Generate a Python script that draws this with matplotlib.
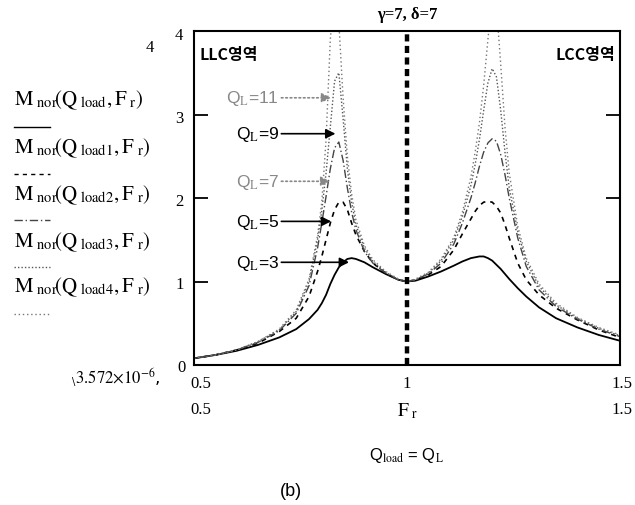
import matplotlib
matplotlib.use("Agg")
import matplotlib.pyplot as plt

plt.rcParams['mathtext.fontset'] = 'stix'

# ---- data ----
F = [0.50, 0.55, 0.60, 0.65, 0.70, 0.74, 0.77, 0.79, 0.80, 0.81, 0.82, 0.83,
     0.84, 0.85, 0.86, 0.87, 0.88, 0.90, 0.92, 0.95, 0.98, 1.00, 1.02, 1.05,
     1.08, 1.11, 1.13, 1.15, 1.16, 1.17, 1.18, 1.19, 1.20, 1.21, 1.22, 1.23,
     1.24, 1.26, 1.28, 1.31, 1.35, 1.40, 1.45, 1.50]

M_Q3 = [0.08, 0.12, 0.17, 0.24, 0.33, 0.43, 0.55, 0.66, 0.74, 0.84, 0.97, 1.08,
        1.17, 1.23, 1.27, 1.28, 1.27, 1.23, 1.17, 1.09, 1.02, 1.00, 1.01, 1.06,
        1.12, 1.19, 1.24, 1.28, 1.29, 1.30, 1.30, 1.28, 1.25, 1.20, 1.15, 1.09,
        1.03, 0.92, 0.82, 0.69, 0.56, 0.45, 0.36, 0.29]

M_Q5 = [0.08, 0.12, 0.18, 0.26, 0.40, 0.56, 0.82, 1.12, 1.30, 1.50, 1.70, 1.86,
        1.95, 1.95, 1.86, 1.70, 1.56, 1.36, 1.22, 1.10, 1.02, 1.00, 1.02, 1.08,
        1.18, 1.38, 1.57, 1.75, 1.84, 1.91, 1.95, 1.96, 1.95, 1.90, 1.82, 1.68,
        1.52, 1.22, 1.02, 0.84, 0.68, 0.54, 0.42, 0.33]

M_Q7 = [0.08, 0.12, 0.18, 0.27, 0.41, 0.62, 0.95, 1.40, 1.70, 2.02, 2.35, 2.60,
        2.67, 2.45, 2.12, 1.83, 1.62, 1.36, 1.22, 1.10, 1.02, 1.00, 1.02, 1.09,
        1.22, 1.45, 1.70, 2.00, 2.18, 2.38, 2.55, 2.66, 2.71, 2.68, 2.52, 2.28,
        2.00, 1.52, 1.18, 0.90, 0.70, 0.55, 0.43, 0.34]

M_Q9 = [0.08, 0.12, 0.18, 0.28, 0.42, 0.64, 1.00, 1.50, 1.85, 2.30, 2.85, 3.40,
        3.50, 2.95, 2.35, 1.95, 1.68, 1.40, 1.24, 1.11, 1.02, 1.00, 1.02, 1.10,
        1.25, 1.50, 1.78, 2.15, 2.40, 2.70, 3.05, 3.38, 3.55, 3.45, 3.05, 2.55,
        2.12, 1.60, 1.24, 0.94, 0.72, 0.56, 0.44, 0.35]

M_Q11 = [0.08, 0.12, 0.18, 0.28, 0.43, 0.66, 1.03, 1.55, 1.95, 2.70, 3.90, 4.50,
         4.10, 3.20, 2.50, 2.05, 1.74, 1.43, 1.26, 1.12, 1.03, 1.00, 1.03, 1.11,
         1.27, 1.53, 1.83, 2.25, 2.55, 2.90, 3.35, 3.90, 4.40, 4.30, 3.60, 2.85,
         2.30, 1.66, 1.28, 0.97, 0.74, 0.57, 0.45, 0.36]

ql_labels = ["11", "9", "7", "5", "3"]
ql_arrow_y = [3.2, 2.77, 2.2, 1.72, 1.23]
ql_arrow_x = [0.822, 0.832, 0.820, 0.822, 0.864]

legend_labels = [r"$\mathrm{M}_{\ \mathrm{nor}}\!\left(\mathrm{Q}_{\ \mathrm{load}},\mathrm{F}_{\ \mathrm{r}}\right)$",
                 r"$\mathrm{M}_{\ \mathrm{nor}}\!\left(\mathrm{Q}_{\ \mathrm{load1}},\mathrm{F}_{\ \mathrm{r}}\right)$",
                 r"$\mathrm{M}_{\ \mathrm{nor}}\!\left(\mathrm{Q}_{\ \mathrm{load2}},\mathrm{F}_{\ \mathrm{r}}\right)$",
                 r"$\mathrm{M}_{\ \mathrm{nor}}\!\left(\mathrm{Q}_{\ \mathrm{load3}},\mathrm{F}_{\ \mathrm{r}}\right)$",
                 r"$\mathrm{M}_{\ \mathrm{nor}}\!\left(\mathrm{Q}_{\ \mathrm{load4}},\mathrm{F}_{\ \mathrm{r}}\right)$"]

W, H = 635, 506
fig = plt.figure(figsize=(W / 100, H / 100), dpi=100)
fig.patch.set_facecolor('white')

def fx(px):
    return px / W

def fy(py):
    return 1 - py / H

ax = fig.add_axes([fx(194), fy(366), (620 - 194) / W, (366 - 32) / H])
ax.set_xlim(0.5, 1.5)
ax.set_ylim(0, 4)

ax.plot(F, M_Q3, color='black', lw=1.3, solid_capstyle='round')
ax.plot(F, M_Q5, color='black', lw=1.2, dashes=(3, 3))
ax.plot(F, M_Q7, color='#444444', lw=1.0, dashes=(6, 2, 1, 2))
ax.plot(F, M_Q9, color='#555555', lw=1.0, dashes=(1, 1.5))
ax.plot(F, M_Q11, color='#777777', lw=1.0, dashes=(1, 2))

ax.axvline(1.0, color='black', lw=3.2, dashes=(1.6, 1.0))

for s in ax.spines.values():
    s.set_linewidth(1.5)
ax.set_xticks([])
ax.set_yticks([1, 2, 3])
ax.set_yticklabels([])
ax.tick_params(axis='y', direction='in', length=10, width=1.3, left=True, right=True)

# Annotations
for lab, yv, xv in zip(ql_labels, ql_arrow_y, ql_arrow_x):
    gray = lab in ("11", "7")
    col = '#888888' if gray else 'black'
    ax.annotate("", xy=(xv, yv), xytext=(0.705, yv),
                arrowprops=dict(arrowstyle='-|>', color=col, lw=1.2,
                                linestyle=':' if gray else '-',
                                mutation_scale=14, shrinkA=0, shrinkB=0))
    ax.text(0.70, yv, r"Q$_{\mathrm{L}}$=" + lab, ha='right', va='center',
            fontsize=12.5, family='Liberation Sans', color=col)

kfont = ['Noto Sans CJK KR', 'DejaVu Sans']
ax.text(0.012, 0.955, "LLC영역", transform=ax.transAxes, ha='left', va='top',
        fontsize=11.5, fontweight='bold', family=kfont)
ax.text(0.99, 0.955, "LCC영역", transform=ax.transAxes, ha='right', va='top',
        fontsize=11.5, fontweight='bold', family=kfont)

serif = 'Liberation Serif'
# Title
fig.text(fx(407), fy(15), "γ=7, δ=7", ha='center', va='center', fontsize=12,
         family=serif, fontweight='bold')

# y tick labels
for lab, py, px in [("4", 36, 183), ("3", 119, 183), ("2", 202, 184), ("1", 285, 184), ("0", 368, 186)]:
    fig.text(fx(px), fy(py), lab, ha='right', va='center', fontsize=12, family=serif)
fig.text(fx(150), fy(48), "4", ha='center', va='center', fontsize=12, family=serif)

# x tick labels
for lab, px in [("0.5", 201), ("1", 407), ("1.5", 622)]:
    fig.text(fx(px), fy(384), lab, ha='center', va='center', fontsize=12, family=serif)
fig.text(fx(201), fy(410), "0.5", ha='center', va='center', fontsize=12, family=serif)
fig.text(fx(622), fy(410), "1.5", ha='center', va='center', fontsize=12, family=serif)
fig.text(fx(407), fy(411), r"$\mathrm{F}_{\ \mathrm{r}}$", ha='center', va='center', fontsize=14)

fig.text(fx(407), fy(456), r"Q$_{\mathrm{load}}$ = Q$_{\mathrm{L}}$", ha='center', va='center',
         fontsize=12, family='Liberation Sans')
fig.text(fx(291), fy(492), "(b)", ha='center', va='center', fontsize=13, family='Liberation Sans')

fig.text(fx(116), fy(378), r"$_{\backslash}3.572{\times}10^{-6}$,", ha='center', va='center',
         fontsize=12)

# Left trace labels and their line samples
label_y = [100, 148, 195, 242, 287]
sample_y = [128, 175, 221, 268, 315]
sample_styles = [dict(color='black', lw=1.0),
                 dict(color='black', lw=1.0, dashes=(3, 3)),
                 dict(color='#444444', lw=1.0, dashes=(6, 2, 1, 2)),
                 dict(color='#555555', lw=1.0, dashes=(1, 1.5)),
                 dict(color='#777777', lw=1.0, dashes=(1, 2))]
for lab, ly in zip(legend_labels, label_y):
    fig.text(fx(14), fy(ly), lab, ha='left', va='center', fontsize=15)
for sy, st in zip(sample_y, sample_styles):
    fig.add_artist(plt.Line2D([fx(14), fx(50)], [fy(sy), fy(sy)], transform=fig.transFigure, **st))

fig.savefig("out.png", dpi=100, facecolor='white')
